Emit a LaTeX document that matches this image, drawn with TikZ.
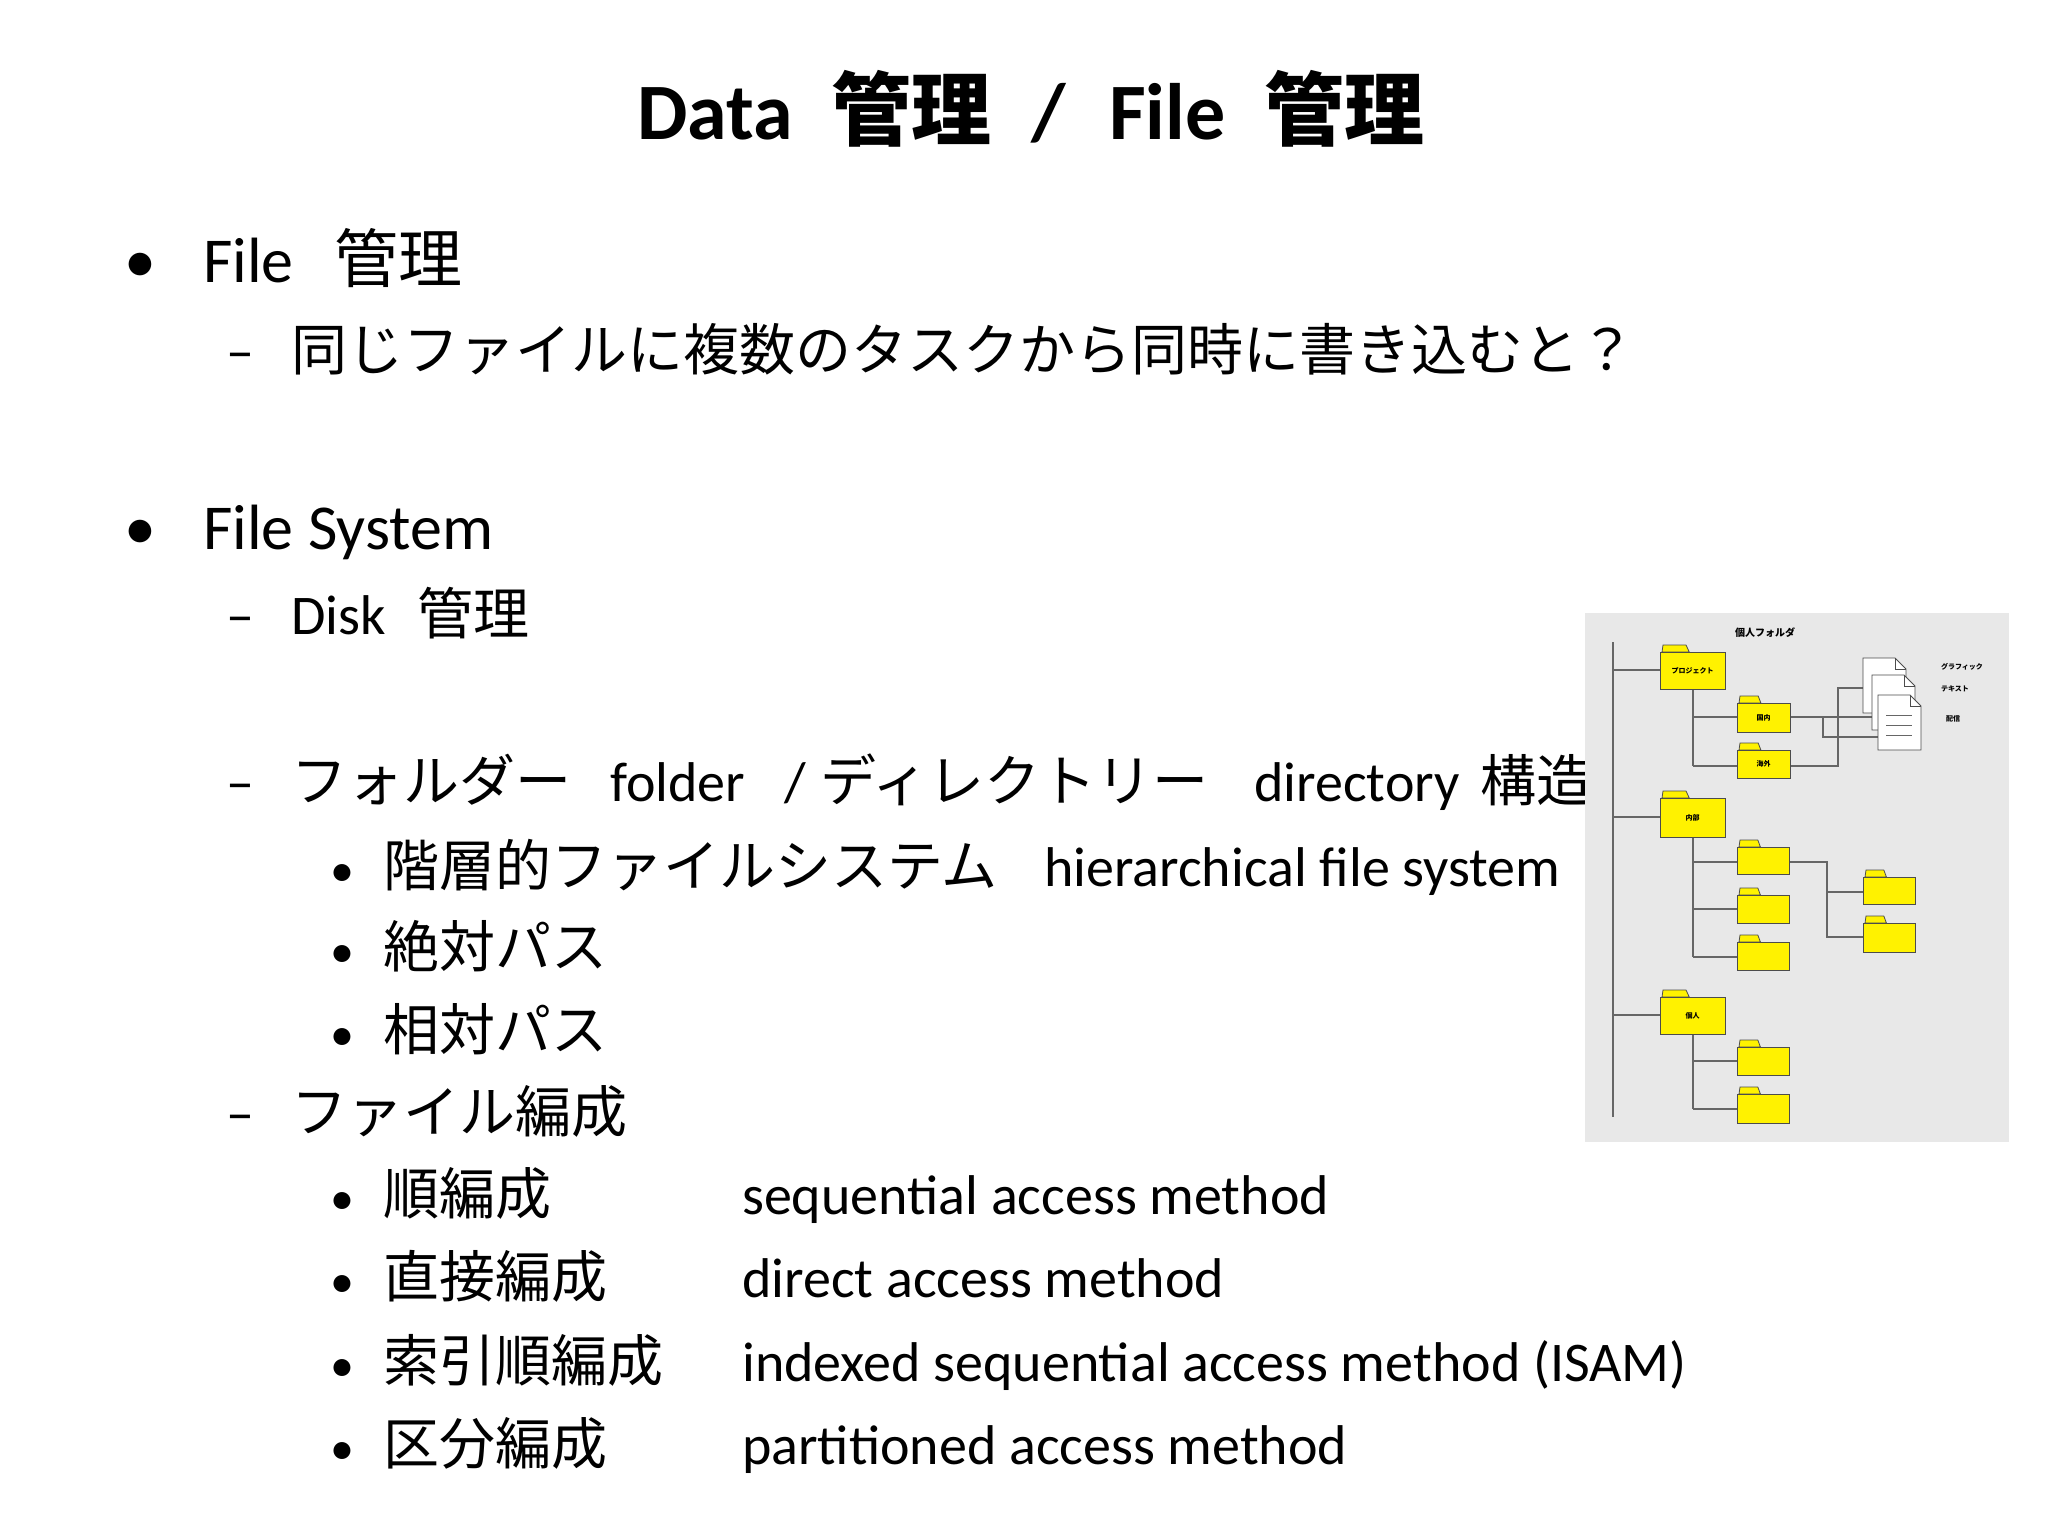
\documentclass[tikz,border=0pt]{standalone}
\usepackage{fontspec}
\setmainfont{Carlito}
\newfontfamily\jp{Noto Sans CJK JP}
\begin{document}
\begin{tikzpicture}[x=1pt,y=-1pt,
 t/.style={anchor=base west,inner sep=0pt,text=black},
 fz/.style={font=\fontsize{#1}{#1}\selectfont},
 fold/.style={draw=black!70,line width=0.8pt,fill=yellow},
 ln/.style={draw=gray!80!black,line width=1.2pt},
 sm/.style={inner sep=0pt,font=\jp\fontsize{7}{7}\selectfont\bfseries}]
\fill[white] (0,0) rectangle (2048,1536);
% title
\node[t,fz=80,font=\bfseries\fontsize{80}{80}\selectfont] (t1) at (637,140) {Data};
\node[t,font=\jp\bfseries\fontsize{80}{80}\selectfont] (t2) at (831,140) {管理};
\node[t,font=\bfseries\fontsize{80}{80}\selectfont] (t3) at (1031,140) {/};
\node[t,font=\bfseries\fontsize{80}{80}\selectfont] (t4) at (1109,140) {File};
\node[t,font=\jp\bfseries\fontsize{80}{80}\selectfont] (t5) at (1264,140) {管理};
% level 1
\node[t,font=\fontsize{64}{64}\selectfont] (b1) at (124,282) {•};
\node[t,font=\fontsize{64}{64}\selectfont] (a1) at (203,282) {File};
\node[t,font=\jp\fontsize{64}{64}\selectfont] (a1j) at (334,282) {管理};
\node[t,font=\fontsize{56}{56}\selectfont] (d1) at (226,370) {–};
\node[t,font=\jp\fontsize{56}{56}\selectfont] (a2) at (291,370) {同じファイルに複数のタスクから同時に書き込むと？};
\node[t,font=\fontsize{64}{64}\selectfont] (b2) at (124,549) {•};
\node[t,font=\fontsize{64}{64}\selectfont] (a3) at (203,549) {File System};
\node[t,font=\fontsize{56}{56}\selectfont] (d2) at (226,634) {–};
\node[t,font=\fontsize{56}{56}\selectfont] (a4) at (291,634) {Disk};
\node[t,font=\jp\fontsize{56}{56}\selectfont] (a4j) at (417,634) {管理};
\node[t,font=\fontsize{56}{56}\selectfont] (d3) at (226,801) {–};
\node[t,font=\jp\fontsize{56}{56}\selectfont] (a5) at (291,801) {フォルダー};
\node[t,font=\fontsize{56}{56}\selectfont] (a5b) at (610,801) {folder};
\node[t,font=\fontsize{56}{56}\selectfont] (a5c) at (784,801) {/};
\node[t,font=\jp\fontsize{56}{56}\selectfont] (a5d) at (820,801) {ディレクトリー};
\node[t,font=\fontsize{56}{56}\selectfont] (a5e) at (1254,801) {directory};
\node[t,font=\jp\fontsize{56}{56}\selectfont] (a5f) at (1480,801) {構造};
\node[t,font=\fontsize{48}{48}\selectfont] (c1) at (330,886) {•};
\node[t,font=\jp\fontsize{56}{56}\selectfont] (a6) at (383,886) {階層的ファイルシステム};
\node[t,font=\fontsize{56}{56}\selectfont] (a6b) at (1044,886) {hierarchical file system};
\node[t,font=\fontsize{48}{48}\selectfont] (c2) at (330,967) {•};
\node[t,font=\jp\fontsize{56}{56}\selectfont] (a7) at (383,967) {絶対パス};
\node[t,font=\fontsize{48}{48}\selectfont] (c3) at (330,1050) {•};
\node[t,font=\jp\fontsize{56}{56}\selectfont] (a8) at (383,1050) {相対パス};
\node[t,font=\fontsize{56}{56}\selectfont] (d4) at (226,1132) {–};
\node[t,font=\jp\fontsize{56}{56}\selectfont] (a9) at (291,1132) {ファイル編成};
\node[t,font=\fontsize{48}{48}\selectfont] (c4) at (330,1214) {•};
\node[t,font=\jp\fontsize{56}{56}\selectfont] (e1) at (383,1214) {順編成};
\node[t,font=\fontsize{56}{56}\selectfont] (f1) at (742,1214) {sequential access method};
\node[t,font=\fontsize{48}{48}\selectfont] (c5) at (330,1297) {•};
\node[t,font=\jp\fontsize{56}{56}\selectfont] (e2) at (383,1297) {直接編成};
\node[t,font=\fontsize{56}{56}\selectfont] (f2) at (742,1297) {direct access method};
\node[t,font=\fontsize{48}{48}\selectfont] (c6) at (330,1381) {•};
\node[t,font=\jp\fontsize{56}{56}\selectfont] (e3) at (383,1381) {索引順編成};
\node[t,font=\fontsize{56}{56}\selectfont] (f3) at (742,1381) {indexed sequential access method (ISAM)};
\node[t,font=\fontsize{48}{48}\selectfont] (c7) at (330,1464) {•};
\node[t,font=\jp\fontsize{56}{56}\selectfont] (e4) at (383,1464) {区分編成};
\node[t,font=\fontsize{56}{56}\selectfont] (f4) at (742,1464) {partitioned access method};
% picture
\fill[gray!18] (1585,613) rectangle (2009,1142);
\node[sm,font=\jp\fontsize{10}{10}\selectfont\bfseries] (pt) at (1765,633) {個人フォルダ};
% lines
\draw[ln] (1613,642) -- (1613,1117);
\draw[ln] (1613,670) -- (1660,670);
\draw[ln] (1613,817) -- (1660,817);
\draw[ln] (1613,1015) -- (1660,1015);
\draw[ln] (1693,689) -- (1693,766);
\draw[ln] (1693,717) -- (1737,717);
\draw[ln] (1693,766) -- (1737,766);
\draw[ln] (1693,837) -- (1693,957);
\foreach \y in {862,909,957} \draw[ln] (1693,\y) -- (1737,\y);
\draw[ln] (1789,862) -- (1827,862) -- (1827,937) -- (1863,937);
\draw[ln] (1827,892) -- (1863,892);
\draw[ln] (1693,1034) -- (1693,1109);
\draw[ln] (1693,1061) -- (1737,1061);
\draw[ln] (1693,1109) -- (1737,1109);
\draw[ln] (1790,717) -- (1885,717);
\draw[ln] (1823,717) -- (1823,737) -- (1885,737);
\draw[ln] (1790,766) -- (1838,766) -- (1838,688) -- (1875,688);
% folders
\foreach \n/\x/\y/\w/\h/\l in {p/1660/652/65/37/プロジェクト, k/1737/703/53/29/国内, g/1737/750/53/28/海外, n/1660/798/65/39/内部, c1/1737/847/52/27/, c2/1737/895/52/28/, c3/1737/942/52/28/, r1/1863/877/52/27/, r2/1863/923/52/29/, h/1660/997/65/37/個人, h1/1737/1047/52/28/, h2/1737/1094/52/29/}{
 \draw[fold] (\x+2,\y) -- (\x+3,\y-7) -- (\x+\w*0.4,\y-7) -- (\x+\w*0.45,\y) -- cycle;
 \draw[fold] (\x,\y) rectangle (\x+\w,\y+\h);
 \node[sm] (\n) at (\x+\w/2,\y+\h/2) {\l};
}
% documents
\foreach \x/\y in {1863/658,1872/675,1878/695}{
 \draw[fill=white,draw=black!70,line width=0.8pt] (\x,\y) -- (\x+32,\y) -- (\x+43,\y+11) -- (\x+43,\y+55) -- (\x,\y+55) -- cycle;
 \draw[draw=black!70,line width=0.6pt] (\x+32,\y) -- (\x+32,\y+11) -- (\x+43,\y+11);
}
\foreach \y in {715,725,735} \draw[black!60,line width=0.8pt] (1886,\y) -- (1912,\y);
\node[sm] (fg) at (1962,667) {グラフィック};
\node[sm] (ft) at (1955,689) {テキスト};
\node[sm] (fh) at (1953,719) {配信};
\end{tikzpicture}
\end{document}
